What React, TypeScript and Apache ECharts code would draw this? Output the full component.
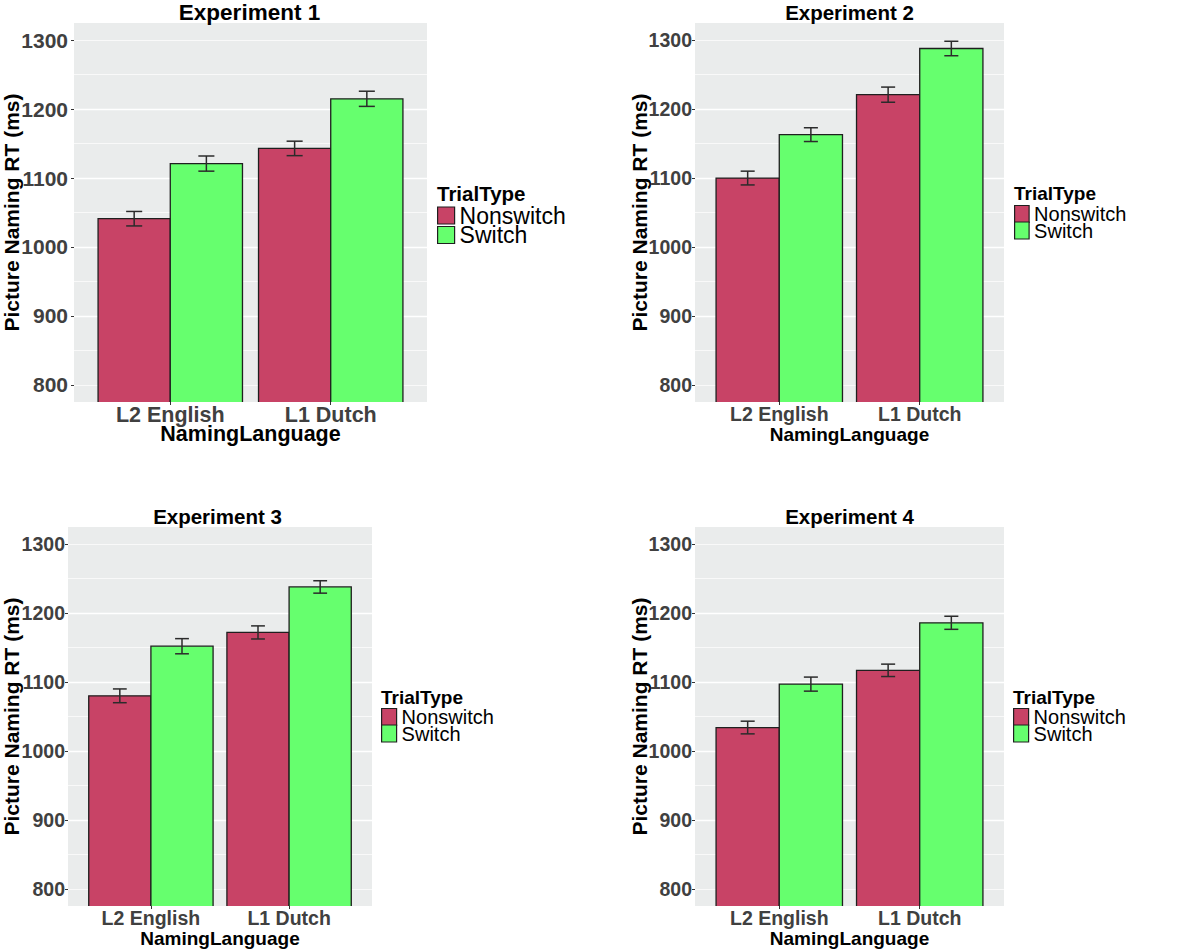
import React, { useEffect, useRef } from "react";
import * as echarts from "echarts";

// ---------- data ----------
const categories = ["L2 English", "L1 Dutch"];
const trialTypes = ["Nonswitch", "Switch"];
const experimentTitles = ["Experiment 1", "Experiment 2", "Experiment 3", "Experiment 4"];
const yTicks = [800, 900, 1000, 1100, 1200, 1300];

const exp1Nonswitch = [1041, 1143];
const exp1Switch = [1121, 1215];
const exp1NonswitchSE = [10.5, 10.5];
const exp1SwitchSE = [11, 11];

const exp2Nonswitch = [1100, 1221];
const exp2Switch = [1163, 1288];
const exp2NonswitchSE = [10, 11];
const exp2SwitchSE = [10, 10.5];

const exp3Nonswitch = [1080, 1172];
const exp3Switch = [1152, 1238];
const exp3NonswitchSE = [10, 9.5];
const exp3SwitchSE = [11, 9];

const exp4Nonswitch = [1034, 1117];
const exp4Switch = [1097, 1186];
const exp4NonswitchSE = [9.2, 9];
const exp4SwitchSE = [10.2, 9.5];

const experimentValues = [
  [exp1Nonswitch, exp1Switch],
  [exp2Nonswitch, exp2Switch],
  [exp3Nonswitch, exp3Switch],
  [exp4Nonswitch, exp4Switch],
];
const experimentSE = [
  [exp1NonswitchSE, exp1SwitchSE],
  [exp2NonswitchSE, exp2SwitchSE],
  [exp3NonswitchSE, exp3SwitchSE],
  [exp4NonswitchSE, exp4SwitchSE],
];

// ---------- style / layout ----------
const FONT = "'Liberation Sans', Arial, Helvetica, sans-serif";
const COLORS = ["#C84366", "#66FF6E"];
const PANEL_BG = "#EAECEC";
const OUTLINE = "#1f1f1f";
const HALF_BAR = 0.225;
const OFFSETS = [-0.225, 0.225];
const CAP_HALF = 0.05;

const layouts = [
  {
    left: 72, top: 23, width: 355, height: 379,
    tickFs: 21, xLabFs: 21.5, xNameFs: 21.5, yNameFs: 21, titleFs: 22.5, legFs: 23, legTitleFs: 20.5,
    tickMargin: 6, xNameGap: 21, yNameGap: 52,
    legLeft: 437, legTitleCy: 193, legTop: 204, keyW: 17,
  },
  {
    left: 695, top: 23, width: 309, height: 379,
    tickFs: 19.5, xLabFs: 19.5, xNameFs: 19, yNameFs: 21, titleFs: 20.5, legFs: 20, legTitleFs: 19,
    tickMargin: 3, xNameGap: 23, yNameGap: 45,
    legLeft: 1014, legTitleCy: 193, legTop: 204, keyW: 14.5,
  },
  {
    left: 63, top: 527, width: 309, height: 379,
    tickFs: 19.5, xLabFs: 19.5, xNameFs: 19, yNameFs: 21, titleFs: 20.5, legFs: 20, legTitleFs: 19,
    tickMargin: 3, xNameGap: 23, yNameGap: 46,
    legLeft: 381, legTitleCy: 697, legTop: 707, keyW: 15,
  },
  {
    left: 695, top: 527, width: 309, height: 379,
    tickFs: 19.5, xLabFs: 19.5, xNameFs: 19, yNameFs: 21, titleFs: 20.5, legFs: 20, legTitleFs: 19,
    tickMargin: 3, xNameGap: 23, yNameGap: 45,
    legLeft: 1013, legTitleCy: 697, legTop: 707, keyW: 15,
  },
];

function buildOption() {
  const grid: any[] = [];
  const xAxis: any[] = [];
  const yAxis: any[] = [];
  const series: any[] = [];
  const title: any[] = [];
  const legend: any[] = [];

  layouts.forEach((L, p) => {
    grid.push({
      left: L.left,
      top: L.top,
      width: L.width,
      height: L.height,
      show: true,
      backgroundColor: PANEL_BG,
      borderWidth: 0,
    });
    xAxis.push({
      type: "value",
      gridIndex: p,
      min: 0.4,
      max: 2.6,
      minInterval: 1,
      maxInterval: 1,
      axisLine: { show: false },
      axisTick: { show: true, length: 3, lineStyle: { color: "#333" }, customValues: [1, 2] },
      axisLabel: {
        customValues: [1, 2],
        formatter: (v: number) => (Number.isInteger(v) && v >= 1 && v <= categories.length ? categories[v - 1] : ""),
        color: "#404040",
        fontFamily: FONT,
        fontWeight: "bold",
        fontSize: L.xLabFs,
        margin: 2,
      },
      splitLine: { show: true, showMinLine: false, showMaxLine: false, lineStyle: { color: "#ffffff", width: 1.4 } },
      name: "NamingLanguage",
      nameLocation: "middle",
      nameGap: L.xNameGap,
      nameMoveOverlap: false,
      nameTextStyle: { color: "#000", fontFamily: FONT, fontWeight: "bold", fontSize: L.xNameFs },
    });
    // primary y axis (labels + major grid)
    yAxis.push({
      type: "value",
      gridIndex: p,
      min: 775,
      max: 1325,
      minInterval: 100,
      maxInterval: 100,
      axisLine: { show: false },
      axisTick: { show: true, length: 3, lineStyle: { color: "#333" }, customValues: yTicks },
      axisLabel: {
        customValues: yTicks,
        formatter: (v: number) => (yTicks.indexOf(v) >= 0 ? String(v) : ""),
        color: "#404040",
        fontFamily: FONT,
        fontWeight: "bold",
        fontSize: L.tickFs,
        margin: L.tickMargin,
      },
      splitLine: { show: true, showMinLine: false, showMaxLine: false, lineStyle: { color: "#ffffff", width: 1.4 } },
      name: "Picture Naming RT (ms)",
      nameLocation: "middle",
      nameRotate: 90,
      nameGap: L.yNameGap,
      nameMoveOverlap: false,
      nameTextStyle: { color: "#000", fontFamily: FONT, fontWeight: "bold", fontSize: L.yNameFs },
    });
    // secondary y axis (minor grid only)
    yAxis.push({
      type: "value",
      gridIndex: p,
      position: "left",
      min: 775,
      max: 1325,
      minInterval: 50,
      maxInterval: 50,
      axisLine: { show: false },
      axisTick: { show: false },
      axisLabel: { show: false },
      splitLine: { show: true, showMinLine: false, showMaxLine: false, lineStyle: { color: "#ffffff", width: 0.7 } },
    });

    title.push({
      text: experimentTitles[p],
      left: L.left + L.width / 2,
      top: L.top - 22,
      textAlign: "center",
      padding: 0,
      textStyle: { color: "#000", fontFamily: FONT, fontWeight: "bold", fontSize: L.titleFs, lineHeight: 22 },
    });
    title.push({
      text: "TrialType",
      left: L.legLeft,
      top: L.legTitleCy - 10,
      padding: 0,
      textStyle: { color: "#000", fontFamily: FONT, fontWeight: "bold", fontSize: L.legTitleFs, lineHeight: 20 },
    });
    legend.push({
      left: L.legLeft,
      top: L.legTop,
      orient: "vertical",
      padding: 0,
      itemGap: -3.5,
      itemWidth: L.keyW,
      itemHeight: 17,
      icon: "rect",
      selectedMode: false,
      data: trialTypes,
      itemStyle: { borderColor: OUTLINE, borderWidth: 1.2 },
      textStyle: { color: "#000", fontFamily: FONT, fontSize: L.legFs, lineHeight: 17 },
    });

    trialTypes.forEach((tt, t) => {
      const vals = experimentValues[p][t];
      const ses = experimentSE[p][t];
      const offset = OFFSETS[t];
      series.push({
        type: "custom",
        name: tt,
        xAxisIndex: p,
        yAxisIndex: p * 2,
        clip: true,
        z: 2,
        itemStyle: { color: COLORS[t], borderColor: OUTLINE, borderWidth: 1.3 },
        encode: { x: 0, y: 1 },
        data: vals.map((v, i) => [i + 1, v]),
        renderItem: (params: any, api: any) => {
          const x = api.value(0) as number;
          const v = api.value(1) as number;
          const cs = params.coordSys;
          const a = api.coord([x + offset - HALF_BAR, v]);
          const b = api.coord([x + offset + HALF_BAR, v]);
          const bottom = cs.y + cs.height + 3;
          return {
            type: "rect",
            shape: { x: a[0], y: a[1], width: b[0] - a[0], height: bottom - a[1] },
            style: { fill: COLORS[t], stroke: OUTLINE, lineWidth: 1.3 },
          };
        },
      });
      series.push({
        type: "custom",
        name: tt + " SE",
        xAxisIndex: p,
        yAxisIndex: p * 2,
        z: 3,
        encode: { x: 0, y: [1, 2] },
        data: vals.map((v, i) => [i + 1, v - ses[i], v + ses[i]]),
        renderItem: (_params: any, api: any) => {
          const xc = (api.value(0) as number) + offset;
          const lo = api.value(1) as number;
          const hi = api.value(2) as number;
          const top = api.coord([xc, hi]);
          const bot = api.coord([xc, lo]);
          const tl = api.coord([xc - CAP_HALF, hi]);
          const tr = api.coord([xc + CAP_HALF, hi]);
          const bl = api.coord([xc - CAP_HALF, lo]);
          const br = api.coord([xc + CAP_HALF, lo]);
          const st = { stroke: "#2b2b2b", lineWidth: 1.5 };
          return {
            type: "group",
            children: [
              { type: "line", shape: { x1: top[0], y1: top[1], x2: bot[0], y2: bot[1] }, style: st },
              { type: "line", shape: { x1: tl[0], y1: tl[1], x2: tr[0], y2: tr[1] }, style: st },
              { type: "line", shape: { x1: bl[0], y1: bl[1], x2: br[0], y2: br[1] }, style: st },
            ],
          };
        },
      });
    });
  });

  return {
    animation: false,
    backgroundColor: "#ffffff",
    textStyle: { fontFamily: FONT },
    grid,
    xAxis,
    yAxis,
    title,
    legend,
    series,
  };
}

export default function App() {
  const ref = useRef<HTMLDivElement | null>(null);
  useEffect(() => {
    if (!ref.current) return;
    const chart = echarts.init(ref.current, undefined, { renderer: "svg" });
    chart.setOption(buildOption() as any);
    return () => chart.dispose();
  }, []);
  return (
    <div
      ref={ref}
      style={{ position: "absolute", left: 0, top: 0, width: 1200, height: 950, background: "#fff" }}
    />
  );
}
